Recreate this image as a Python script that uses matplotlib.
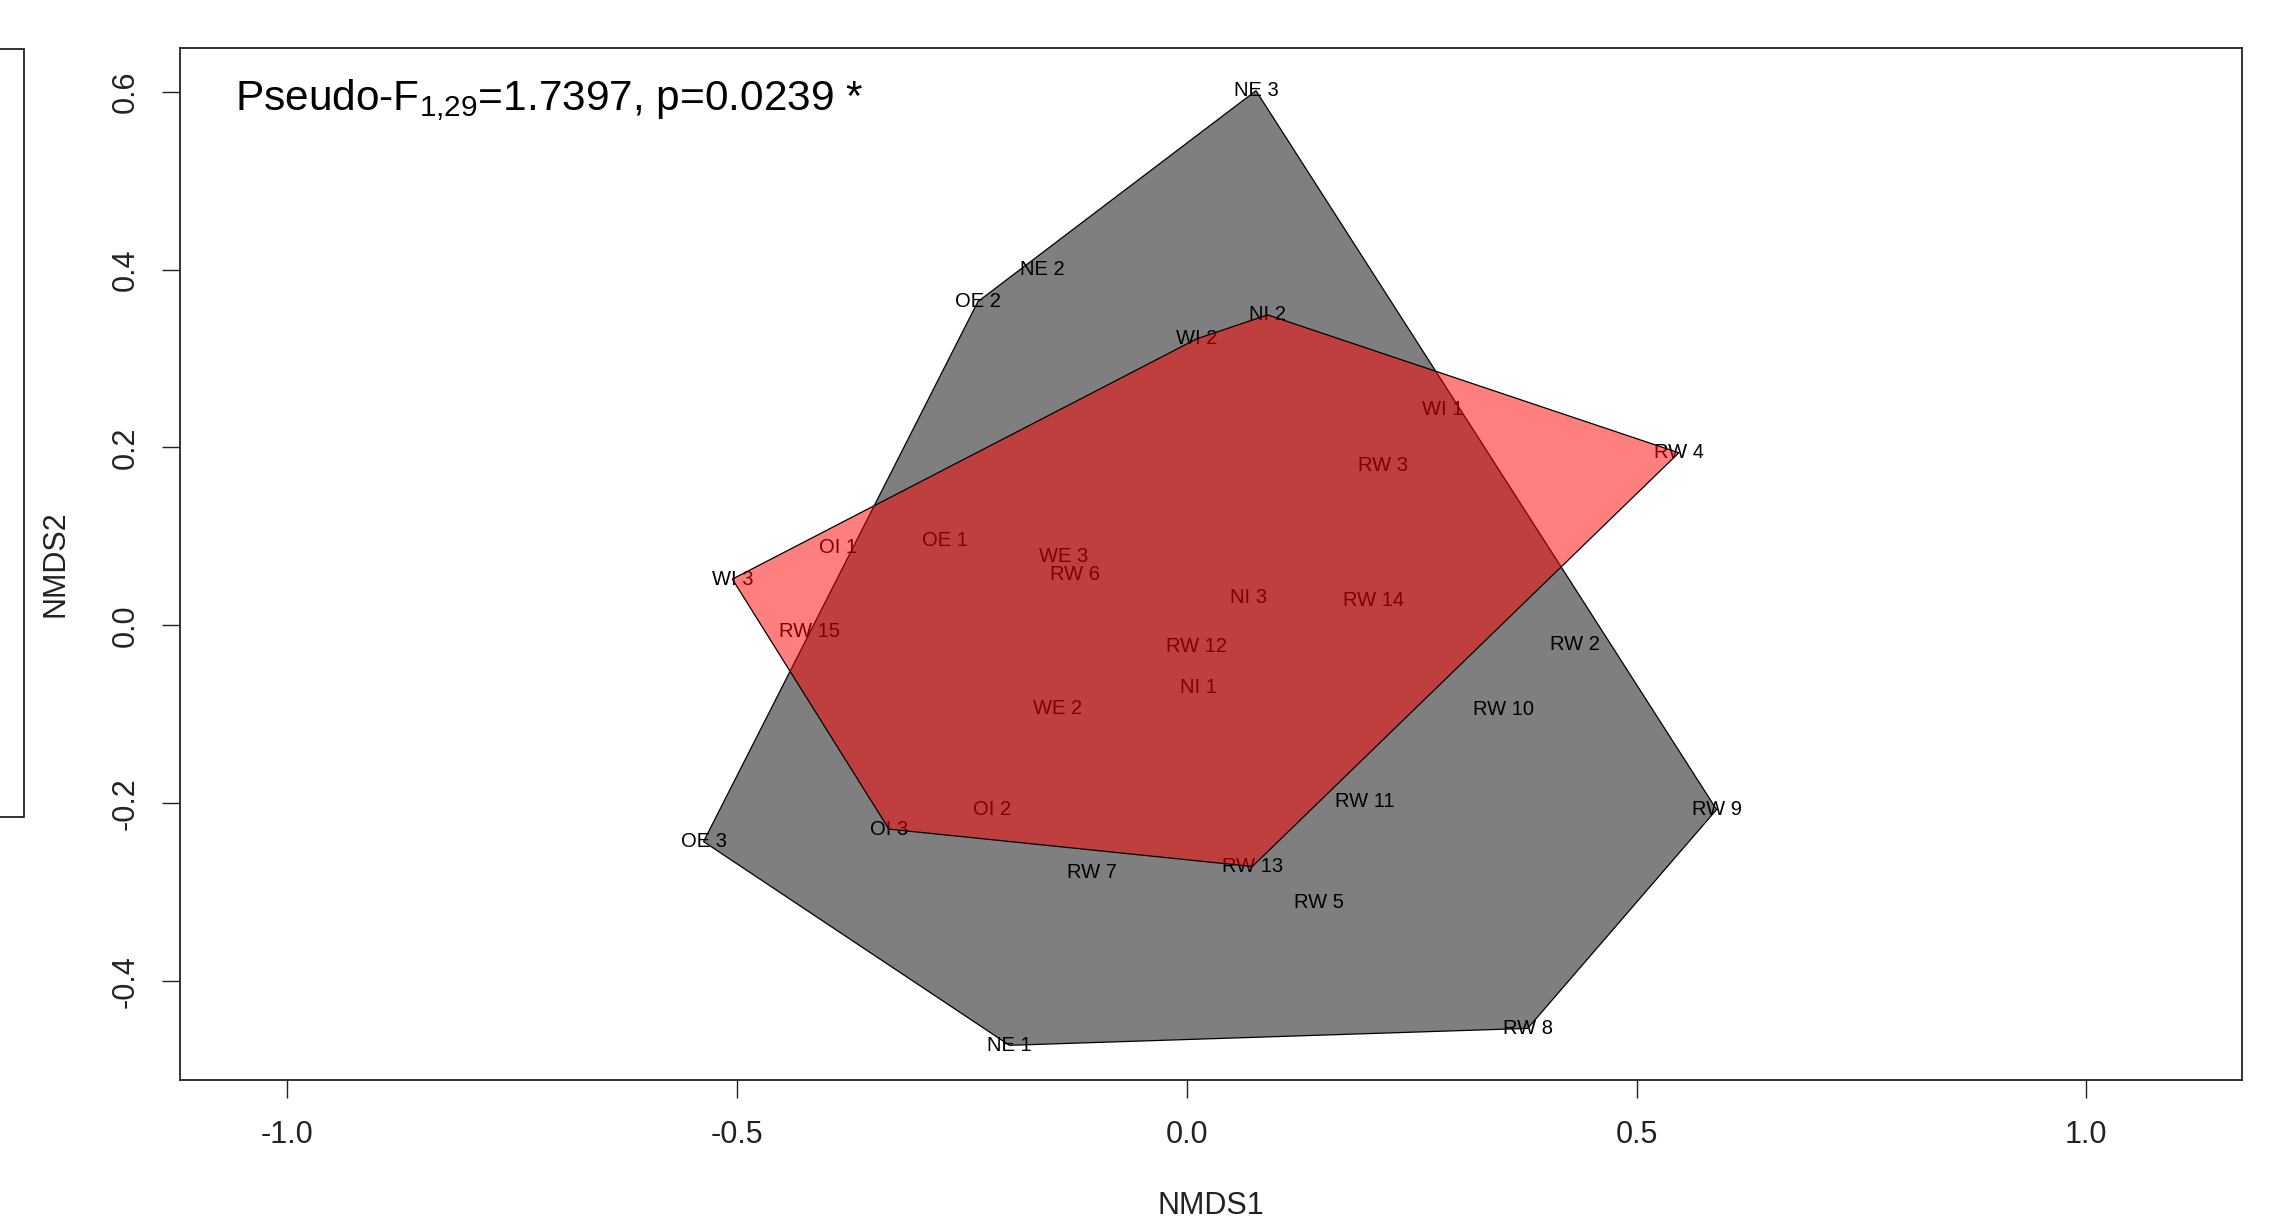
import numpy as np
import matplotlib.pyplot as plt
from matplotlib.patches import Polygon, Rectangle

plt.rcParams['font.family'] = ['Liberation Sans', 'DejaVu Sans']
plt.rcParams['axes.unicode_minus'] = False

# NMDS site scores
sites = ['NE 1', 'NE 2', 'NE 3', 'OE 1', 'OE 2', 'OE 3', 'WE 2', 'WE 3',
         'RW 2', 'RW 5', 'RW 7', 'RW 8', 'RW 9', 'RW 10', 'RW 11',
         'NI 1', 'NI 2', 'NI 3', 'OI 1', 'OI 2', 'OI 3', 'WI 1', 'WI 2', 'WI 3',
         'RW 3', 'RW 4', 'RW 6', 'RW 12', 'RW 13', 'RW 14', 'RW 15']
nmds1 = [-0.197, -0.161, 0.077, -0.269, -0.232, -0.537, -0.144, -0.137,
         0.432, 0.147, -0.105, 0.379, 0.589, 0.352, 0.198,
         0.013, 0.090, 0.069, -0.387, -0.216, -0.331, 0.284, 0.011, -0.505,
         0.218, 0.547, -0.124, 0.011, 0.073, 0.208, -0.419]
nmds2 = [-0.472, 0.400, 0.601, 0.095, 0.364, -0.243, -0.093, 0.077,
         -0.021, -0.312, -0.278, -0.453, -0.207, -0.095, -0.198,
         -0.070, 0.349, 0.031, 0.088, -0.207, -0.229, 0.243, 0.322, 0.052,
         0.180, 0.194, 0.057, -0.024, -0.271, 0.028, -0.007]
group = ['E'] * 15 + ['I'] * 16
group_colors = {'E': (0, 0, 0, 0.5), 'I': (1, 0, 0, 0.5)}

stat_text = 'Pseudo-F$_\\mathregular{1{,}29}$=1.7397, p=0.0239 *'


def convex_hull(pts):
    pts = sorted(map(tuple, pts))

    def cross(o, a, b):
        return (a[0] - o[0]) * (b[1] - o[1]) - (a[1] - o[1]) * (b[0] - o[0])

    lower, upper = [], []
    for p in pts:
        while len(lower) >= 2 and cross(lower[-2], lower[-1], p) <= 0:
            lower.pop()
        lower.append(p)
    for p in reversed(pts):
        while len(upper) >= 2 and cross(upper[-2], upper[-1], p) <= 0:
            upper.pop()
        upper.append(p)
    return np.array(lower[:-1] + upper[:-1])


fig = plt.figure(figsize=(22.75, 12.27), dpi=100)
ax = fig.add_axes([0.0791, 0.1198, 0.9064, 0.8411])

x = np.array(nmds1)
y = np.array(nmds2)
g = np.array(group)

# labels first, hulls drawn over them
for name, xi, yi in zip(sites, x, y):
    ax.text(xi, yi, name, fontsize=14.5, ha='center', va='center', color='black', zorder=1)

for z, grp in enumerate(['E', 'I']):
    pts = np.column_stack([x[g == grp], y[g == grp]])
    hull = convex_hull(pts)
    ax.add_patch(Polygon(hull, closed=True, facecolor=group_colors[grp],
                         edgecolor='black', linewidth=0.9, zorder=2 + z))

ax.text(0.0267, 0.94, stat_text, transform=ax.transAxes, fontsize=30.5,
        ha='left', va='baseline')

ax.set_xlim(-1.119, 1.173)
ax.set_ylim(-0.511, 0.649)
ax.set_xticks([-1.0, -0.5, 0.0, 0.5, 1.0])
ax.set_xticklabels(['-1.0', '-0.5', '0.0', '0.5', '1.0'])
ax.set_yticks([-0.4, -0.2, 0.0, 0.2, 0.4, 0.6])
ax.set_yticklabels(['-0.4', '-0.2', '0.0', '0.2', '0.4', '0.6'])
ax.tick_params(axis='both', direction='out', length=13, width=1, labelsize=22,
               color='#222222', labelcolor='#222222')
ax.tick_params(axis='x', pad=16)
ax.tick_params(axis='y', pad=15)
for lab in ax.get_yticklabels():
    lab.set_rotation(90)
    lab.set_va('center')

for s in ax.spines.values():
    s.set_linewidth(1.3)
    s.set_color('#222222')

ax.set_xlabel('NMDS1', fontsize=22, color='#222222')
ax.set_ylabel('NMDS2', fontsize=22, color='#222222')
ax.xaxis.set_label_coords(0.5, -0.108)
ax.yaxis.set_label_coords(-0.053, 0.5)

# edge of a box cut off at the left border
fig.add_artist(Rectangle((-0.01, 0.3341), 0.0206, 0.626, transform=fig.transFigure,
                         fill=False, linewidth=1.3, edgecolor='#222222'))

fig.savefig('out.png', dpi=100)
